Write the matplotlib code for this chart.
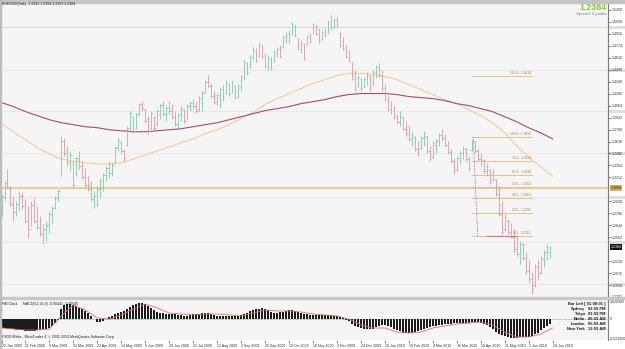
import numpy as np
import matplotlib
matplotlib.use('Agg')
import matplotlib.pyplot as plt
from matplotlib.patches import Rectangle
from matplotlib.transforms import blended_transform_factory

# ---- data (EURUSD daily, one bar per two sessions) ----
opens = [1.2800, 1.2980, 1.3150, 1.3100, 1.2900, 1.2800, 1.2900, 1.2990, 1.2870, 1.2700,
         1.2600, 1.2880, 1.2700, 1.2620, 1.2540, 1.2600, 1.2650, 1.2780, 1.2850, 1.2970,
         1.3250, 1.3650, 1.3500, 1.3400, 1.3400, 1.3250, 1.3440, 1.3350, 1.3220, 1.3120,
         1.3080, 1.2960, 1.2900, 1.3080, 1.3100, 1.3240, 1.3320, 1.3260, 1.3390, 1.3560,
         1.3620, 1.3520, 1.3600, 1.3800, 1.3930, 1.3800, 1.3960, 1.4080, 1.4020, 1.3900,
         1.3800, 1.3930, 1.3840, 1.3950, 1.4070, 1.3970, 1.4040, 1.4000, 1.3930, 1.3850,
         1.3950, 1.4000, 1.3920, 1.4060, 1.4100, 1.4060, 1.4010, 1.4100, 1.4230, 1.4340,
         1.4300, 1.4180, 1.4110, 1.4190, 1.4260, 1.4220, 1.4320, 1.4230, 1.4300, 1.4170,
         1.4280, 1.4400, 1.4570, 1.4520, 1.4640, 1.4730, 1.4650, 1.4780, 1.4640, 1.4530,
         1.4620, 1.4590, 1.4700, 1.4740, 1.4760, 1.4880, 1.4920, 1.4910, 1.5020, 1.4860,
         1.4740, 1.4800, 1.4790, 1.4880, 1.4930, 1.5020, 1.4920, 1.4850, 1.4940, 1.4930,
         1.5060, 1.5000, 1.5080, 1.4930, 1.4780, 1.4740, 1.4640, 1.4570, 1.4380, 1.4290,
         1.4380, 1.4290, 1.4380, 1.4420, 1.4320, 1.4460, 1.4520, 1.4420, 1.4270, 1.4140,
         1.4030, 1.4050, 1.3930, 1.3870, 1.3930, 1.3790, 1.3730, 1.3670, 1.3690, 1.3550,
         1.3560, 1.3680, 1.3700, 1.3530, 1.3450, 1.3600, 1.3650, 1.3720, 1.3680, 1.3600,
         1.3510, 1.3410, 1.3300, 1.3440, 1.3500, 1.3550, 1.3430, 1.3540, 1.3640, 1.3530,
         1.3430, 1.3420, 1.3290, 1.3300, 1.3180, 1.3190, 1.3010, 1.2780, 1.2600, 1.2700,
         1.2560, 1.2510, 1.2360, 1.2300, 1.2420, 1.2260, 1.2100, 1.2000, 1.1930, 1.2150,
         1.2080, 1.2240, 1.2330, 1.2332]
highs = [1.3013, 1.3169, 1.3312, 1.3109, 1.2989, 1.2930, 1.3049, 1.3025, 1.2953, 1.2870,
         1.2930, 1.2965, 1.2870, 1.2750, 1.2655, 1.2691, 1.2810, 1.2870, 1.2989, 1.3073,
         1.3706, 1.3682, 1.3587, 1.3527, 1.3407, 1.3467, 1.3527, 1.3407, 1.3324, 1.3228,
         1.3169, 1.3049, 1.3109, 1.3204, 1.3264, 1.3348, 1.3407, 1.3384, 1.3587, 1.3682,
         1.3646, 1.3551, 1.3826, 1.4005, 1.3945, 1.3981, 1.4100, 1.4124, 1.4029, 1.3945,
         1.4005, 1.3945, 1.4029, 1.4088, 1.4124, 1.4065, 1.4124, 1.4088, 1.4005, 1.3981,
         1.4065, 1.4029, 1.4088, 1.4124, 1.4148, 1.4124, 1.4184, 1.4244, 1.4363, 1.4423,
         1.4339, 1.4244, 1.4220, 1.4280, 1.4304, 1.4363, 1.4339, 1.4363, 1.4304, 1.4327,
         1.4423, 1.4602, 1.4578, 1.4662, 1.4757, 1.4746, 1.4817, 1.4781, 1.4686, 1.4662,
         1.4638, 1.4722, 1.4757, 1.4781, 1.4901, 1.4937, 1.4961, 1.5056, 1.5020, 1.4865,
         1.4841, 1.4805, 1.4901, 1.4925, 1.5044, 1.5020, 1.4984, 1.4961, 1.4984, 1.5080,
         1.5140, 1.5104, 1.5116, 1.4937, 1.4877, 1.4781, 1.4722, 1.4578, 1.4483, 1.4423,
         1.4387, 1.4399, 1.4459, 1.4423, 1.4483, 1.4542, 1.4566, 1.4483, 1.4327, 1.4184,
         1.4124, 1.4065, 1.3969, 1.4005, 1.3945, 1.3885, 1.3826, 1.3766, 1.3706, 1.3646,
         1.3706, 1.3766, 1.3706, 1.3587, 1.3646, 1.3670, 1.3742, 1.3790, 1.3730, 1.3646,
         1.3551, 1.3443, 1.3467, 1.3527, 1.3587, 1.3563, 1.3467, 1.3670, 1.3646, 1.3551,
         1.3503, 1.3431, 1.3384, 1.3312, 1.3312, 1.3192, 1.3109, 1.2930, 1.2774, 1.2715,
         1.2667, 1.2595, 1.2511, 1.2452, 1.2428, 1.2332, 1.2237, 1.2093, 1.2189, 1.2237,
         1.2273, 1.2356, 1.2416, 1.2394]
lows = [1.2750, 1.2930, 1.3085, 1.2870, 1.2691, 1.2750, 1.2810, 1.2834, 1.2667, 1.2488,
        1.2631, 1.2667, 1.2595, 1.2511, 1.2416, 1.2452, 1.2547, 1.2667, 1.2834, 1.2930,
        1.3228, 1.3467, 1.3348, 1.3288, 1.3085, 1.3228, 1.3312, 1.3192, 1.3085, 1.3049,
        1.2930, 1.2846, 1.2870, 1.2965, 1.3049, 1.3169, 1.3204, 1.3228, 1.3384, 1.3527,
        1.3503, 1.3407, 1.3587, 1.3766, 1.3742, 1.3790, 1.3945, 1.4005, 1.3861, 1.3730,
        1.3790, 1.3766, 1.3826, 1.3909, 1.3945, 1.3885, 1.3969, 1.3909, 1.3826, 1.3802,
        1.3885, 1.3861, 1.3909, 1.4005, 1.4029, 1.3981, 1.4005, 1.4005, 1.4220, 1.4280,
        1.4160, 1.4088, 1.4065, 1.4041, 1.4124, 1.4208, 1.4184, 1.4220, 1.4148, 1.4160,
        1.4244, 1.4363, 1.4423, 1.4507, 1.4602, 1.4578, 1.4638, 1.4626, 1.4507, 1.4483,
        1.4483, 1.4578, 1.4638, 1.4626, 1.4746, 1.4805, 1.4805, 1.4901, 1.4877, 1.4722,
        1.4686, 1.4602, 1.4781, 1.4805, 1.4925, 1.4901, 1.4805, 1.4841, 1.4877, 1.4925,
        1.4961, 1.4984, 1.4996, 1.4757, 1.4722, 1.4626, 1.4578, 1.4363, 1.4244, 1.4280,
        1.4244, 1.4280, 1.4304, 1.4244, 1.4304, 1.4387, 1.4399, 1.4244, 1.4124, 1.4005,
        1.3969, 1.3909, 1.3850, 1.3826, 1.3766, 1.3706, 1.3646, 1.3587, 1.3527, 1.3467,
        1.3551, 1.3587, 1.3503, 1.3407, 1.3443, 1.3503, 1.3587, 1.3646, 1.3575, 1.3491,
        1.3384, 1.3252, 1.3288, 1.3372, 1.3431, 1.3407, 1.3288, 1.3527, 1.3503, 1.3407,
        1.3348, 1.3264, 1.3228, 1.3133, 1.3169, 1.2989, 1.2750, 1.2535, 1.2571, 1.2535,
        1.2488, 1.2332, 1.2273, 1.2189, 1.2237, 1.2069, 1.1974, 1.1830, 1.1914, 1.1998,
        1.2069, 1.2153, 1.2237, 1.2253]
closes = [1.2980, 1.3140, 1.3100, 1.2900, 1.2800, 1.2900, 1.2990, 1.2870, 1.2700, 1.2600,
          1.2880, 1.2700, 1.2620, 1.2540, 1.2600, 1.2650, 1.2780, 1.2850, 1.2970, 1.3050,
          1.3650, 1.3500, 1.3400, 1.3480, 1.3120, 1.3440, 1.3350, 1.3220, 1.3120, 1.3080,
          1.2960, 1.2990, 1.3080, 1.3170, 1.3240, 1.3320, 1.3260, 1.3360, 1.3560, 1.3650,
          1.3520, 1.3440, 1.3800, 1.3980, 1.3760, 1.3960, 1.4080, 1.4030, 1.3880, 1.3760,
          1.3980, 1.3800, 1.4000, 1.4070, 1.3970, 1.4040, 1.4000, 1.3930, 1.3850, 1.3950,
          1.4030, 1.3880, 1.4060, 1.4100, 1.4060, 1.4000, 1.4160, 1.4220, 1.4340, 1.4300,
          1.4180, 1.4110, 1.4190, 1.4260, 1.4150, 1.4340, 1.4200, 1.4330, 1.4170, 1.4300,
          1.4400, 1.4580, 1.4450, 1.4640, 1.4730, 1.4600, 1.4790, 1.4640, 1.4530, 1.4620,
          1.4500, 1.4700, 1.4740, 1.4650, 1.4880, 1.4920, 1.4830, 1.5030, 1.4890, 1.4740,
          1.4820, 1.4620, 1.4890, 1.4820, 1.5030, 1.4920, 1.4830, 1.4940, 1.4900, 1.5060,
          1.5000, 1.5080, 1.5010, 1.4780, 1.4740, 1.4640, 1.4590, 1.4380, 1.4260, 1.4400,
          1.4270, 1.4380, 1.4430, 1.4270, 1.4460, 1.4520, 1.4420, 1.4270, 1.4140, 1.4030,
          1.4080, 1.3930, 1.3870, 1.3980, 1.3790, 1.3730, 1.3670, 1.3720, 1.3550, 1.3490,
          1.3680, 1.3740, 1.3530, 1.3430, 1.3620, 1.3650, 1.3720, 1.3680, 1.3600, 1.3510,
          1.3410, 1.3300, 1.3440, 1.3500, 1.3560, 1.3430, 1.3320, 1.3650, 1.3530, 1.3430,
          1.3470, 1.3290, 1.3350, 1.3150, 1.3290, 1.3010, 1.2780, 1.2560, 1.2740, 1.2560,
          1.2510, 1.2360, 1.2300, 1.2420, 1.2260, 1.2100, 1.2000, 1.1900, 1.2160, 1.2050,
          1.2250, 1.2330, 1.2390, 1.2384]

# moving averages, read every 4th bar
ma_orange = [1.3850, 1.3754, 1.3658, 1.3563, 1.3491, 1.3431, 1.3407, 1.3384, 1.3372, 1.3372,
             1.3384, 1.3431, 1.3479, 1.3527, 1.3575, 1.3623, 1.3670, 1.3730, 1.3778, 1.3838,
             1.3909, 1.3981, 1.4077, 1.4148, 1.4208, 1.4268, 1.4327, 1.4375, 1.4423, 1.4447,
             1.4447, 1.4435, 1.4411, 1.4375, 1.4315, 1.4256, 1.4196, 1.4136, 1.4088, 1.4017,
             1.3945, 1.3861, 1.3742, 1.3587, 1.3455, 1.3336, 1.3228]
ma_maroon = [1.4100, 1.4053, 1.3993, 1.3945, 1.3897, 1.3861, 1.3838, 1.3814, 1.3802, 1.3778,
             1.3766, 1.3754, 1.3754, 1.3766, 1.3778, 1.3790, 1.3814, 1.3838, 1.3861, 1.3897,
             1.3933, 1.3969, 1.4005, 1.4029, 1.4053, 1.4088, 1.4112, 1.4136, 1.4172, 1.4196,
             1.4208, 1.4208, 1.4208, 1.4196, 1.4172, 1.4160, 1.4148, 1.4124, 1.4088, 1.4065,
             1.4029, 1.3993, 1.3933, 1.3873, 1.3802, 1.3742, 1.3670]

# MACD(12,26,9)
macd_hist = [-0.009, -0.009, -0.010, -0.010, -0.010, -0.011, -0.011, -0.011, -0.012, -0.012,
             -0.012, -0.012, -0.011, -0.011, -0.010, -0.010, -0.009, -0.007, -0.004, -0.001,
             0.010, 0.014, 0.015, 0.015, 0.014, 0.013, 0.011, 0.010, 0.008, 0.006,
             0.003, 0.000, -0.003, -0.003, -0.002, 0.000, 0.002, 0.003, 0.005, 0.006,
             0.007, 0.008, 0.010, 0.012, 0.014, 0.015, 0.016, 0.016, 0.015, 0.013,
             0.011, 0.009, 0.007, 0.006, 0.006, 0.005, 0.005, 0.005, 0.005, 0.004,
             0.004, 0.003, 0.003, 0.004, 0.005, 0.005, 0.005, 0.006, 0.006, 0.006,
             0.005, 0.004, 0.003, 0.003, 0.003, 0.003, 0.003, 0.003, 0.003, 0.003,
             0.004, 0.005, 0.006, 0.008, 0.009, 0.010, 0.010, 0.011, 0.010, 0.009,
             0.007, 0.006, 0.006, 0.007, 0.007, 0.008, 0.009, 0.009, 0.008, 0.007,
             0.006, 0.005, 0.005, 0.004, 0.004, 0.004, 0.004, 0.004, 0.004, 0.004,
             0.004, 0.003, 0.003, 0.002, 0.001, -0.001, -0.002, -0.005, -0.007, -0.008,
             -0.009, -0.010, -0.010, -0.010, -0.010, -0.008, -0.007, -0.006, -0.006, -0.007,
             -0.008, -0.010, -0.011, -0.012, -0.014, -0.014, -0.014, -0.014, -0.013, -0.012,
             -0.011, -0.010, -0.009, -0.008, -0.007, -0.007, -0.006, -0.006, -0.005, -0.005,
             -0.005, -0.004, -0.004, -0.004, -0.004, -0.004, -0.004, -0.003, -0.003, -0.003,
             -0.004, -0.005, -0.006, -0.008, -0.010, -0.013, -0.015, -0.016, -0.017, -0.018,
             -0.019, -0.019, -0.019, -0.018, -0.018, -0.018, -0.018, -0.017, -0.015, -0.014,
             -0.011, -0.009, -0.007, -0.005]
macd_signal = [-0.009, -0.010, -0.011, -0.011, -0.010, 0.003, 0.014, 0.009, 0.001, 0.000,
               0.004, 0.010, 0.015, 0.011, 0.006, 0.005, 0.004, 0.005, 0.005, 0.004,
               0.003, 0.006, 0.009, 0.008, 0.008, 0.007, 0.005, 0.004, 0.003, 0.000,
               -0.006, -0.009, -0.009, -0.013, -0.014, -0.013, -0.009, -0.007, -0.005, -0.004,
               -0.003, -0.006, -0.013, -0.018, -0.018, -0.015, -0.009]
macd_now = (-0.00443, -0.00540)

dates = ['22 Jan 2009', '11 Feb 2009', '9 Mar 2009', '31 Mar 2009', '22 Apr 2009', '14 May 2009',
         '5 Jun 2009', '29 Jun 2009', '21 Jul 2009', '12 Aug 2009', '3 Sep 2009', '25 Sep 2009',
         '19 Oct 2009', '10 Nov 2009', '2 Dec 2009', '24 Dec 2009', '19 Jan 2010', '10 Feb 2010',
         '4 Mar 2010', '26 Mar 2010', '19 Apr 2010', '11 May 2010', '2 Jun 2010', '24 Jun 2010']
price_ticks = [1.5200, 1.5058, 1.4916, 1.4774, 1.4632, 1.4490, 1.4348, 1.4206, 1.4064, 1.3922,
               1.3780, 1.3638, 1.3496, 1.3354, 1.3212, 1.2928, 1.2786, 1.2644, 1.2502,
               1.2218, 1.2076, 1.1934, 1.1792]
grid_prices = [1.5000, 1.4490, 1.3995, 1.3505, 1.2985, 1.2445, 1.1945]
macd_ticks = [0.0178, 0.0, -0.0192]
macd_tick_labels = ['0.020000', '0', '-0.021000']

# drawn objects
hline_price = 1.3090
fib_levels = [0.0, 23.6, 38.2, 50.0, 61.8, 76.4, 100.0, 161.8]
fib_prices = [1.2513, 1.2791, 1.2963, 1.3102, 1.3240, 1.3412, 1.3690, 1.4418]
fib_bars = [157, 177]
fib_trend = [(157.5, 1.3690), (159.0, 1.2513)]
red_seg = [(162, 172), 1.2513]

clock_rows = [('Sydney', '02:59 PM'), ('Tokyo', '01:59 PM'), ('Berlin', '06:59 AM'),
              ('London', '05:59 AM'), ('New York', '12:59 AM')]

# ---- figure ----
W, H = 625, 349
plt.rcParams['font.family'] = ['Liberation Sans', 'DejaVu Sans']
fig = plt.figure(figsize=(W / 100, H / 100), dpi=100, facecolor='white')


def box(l, t, r, b):
    return [l / W, 1 - b / H, (r - l) / W, (b - t) / H]


ax = fig.add_axes(box(1, 3, 608, 297))
axm = fig.add_axes(box(1, 299, 608, 340), sharex=ax)
for a in (ax, axm):
    a.set_facecolor('#f5f5f5')
    for s in a.spines.values():
        s.set_visible(False)
    a.spines['right'].set_visible(True)
    a.spines['right'].set_color('#7a7a7a')
    a.spines['right'].set_linewidth(0.8)

fig.patches.append(Rectangle((0, 1 - 2.5 / H), 1, 2.5 / H, transform=fig.transFigure,
                             color='#c4c4c4', zorder=0))
fig.patches.append(Rectangle((0, 1 - 299 / H), 1, 2 / H, transform=fig.transFigure,
                             color='#c8c8c8', zorder=0))
fig.patches.append(Rectangle((0, 0), 1.5 / W, 1, transform=fig.transFigure,
                             color='#bdbdbd', zorder=0))

n = len(closes)
x = np.arange(n)
o = np.array(opens)
c = np.array(closes)
up = c >= o
cols = np.where(up, '#74c99c', '#e08e9c')

ax.set_xlim(-0.17, 202.5)
ax.set_ylim(1.1804, 1.5283)

blend = blended_transform_factory(ax.transAxes, ax.transData)
for i, p in enumerate(grid_prices):
    ax.axhline(p, color='#d6d6d6', lw=0.6, ls='-' if i == 0 else (0, (1.2, 1.2)), zorder=1)
    ax.plot([1.0, 1.028], [p, p], transform=blend, color='#dedede', lw=2.2,
            solid_capstyle='butt', clip_on=False, zorder=1)

ax.axhline(hline_price, color='#e8cf98', lw=1.5, zorder=1.5)

ax.vlines(x, lows, highs, colors=cols, lw=0.55, zorder=3)
ax.hlines(o, x - 0.45, x, colors=cols, lw=0.5, zorder=3)
ax.hlines(c, x, x + 0.45, colors=cols, lw=0.5, zorder=3)

ma_x = np.arange(len(ma_orange)) * 4
ax.plot(ma_x, ma_orange, color='#f4c98a', lw=0.7, zorder=2)
ax.plot(ma_x, ma_maroon, color='#a84d66', lw=0.8, zorder=2)

# fibonacci retracement
for lvl, p in zip(fib_levels, fib_prices):
    ax.plot(fib_bars, [p, p], color='#e2c48a', lw=0.7, zorder=2)
    ax.text(fib_bars[1] - 0.3, p + 0.0012, f'{lvl:.1f} - {p:.4f}', fontsize=2.3,
            color='#a88540', ha='right', va='bottom', zorder=4)
ax.plot([fib_trend[0][0], fib_trend[1][0]], [fib_trend[0][1], fib_trend[1][1]],
        color='#a0525e', lw=0.6, ls=(0, (1, 1.3)), zorder=4)
ax.plot(red_seg[0], [red_seg[1], red_seg[1]], color='#c9808c', lw=0.9, zorder=2.5)

# price axis
ax.yaxis.tick_right()
ax.set_yticks(price_ticks)
ax.set_yticklabels([f'{p:.4f}' for p in price_ticks])
ax.tick_params(axis='y', labelsize=2.6, length=2, width=0.4, pad=0.8,
               colors='#333333', direction='out')
ax.tick_params(axis='x', bottom=False, labelbottom=False)

ax.text(1.004, hline_price, f'{hline_price:.4f}', transform=blend, fontsize=2.6,
        ha='left', va='center', color='#202020', zorder=6,
        bbox=dict(boxstyle='square,pad=0.25', fc='#d7b05a', ec='none'))
ax.text(1.004, closes[-1], f'{closes[-1]:.4f}', transform=blend, fontsize=2.6,
        ha='left', va='center', color='white', zorder=6,
        bbox=dict(boxstyle='square,pad=0.25', fc='#111111', ec='none'))

# header texts
fig.text(2 / W, 1 - 4.5 / H,
         f'EURUSD,Daily  {opens[-1]:.4f} {highs[-1]:.4f} {lows[-1]:.4f} {closes[-1]:.4f}',
         fontsize=2.6, color='#222222', ha='left', va='center')
fig.text(606 / W, 1 - 8 / H, f'{closes[-1]:.4f}', fontsize=6.4, weight='bold',
         color='#86cf2c', ha='right', va='center')
fig.text(606 / W, 1 - 14.5 / H, 'Spread: 2 points', fontsize=3.1, color='#5b80b6',
         ha='right', va='center')

# ---- MACD window ----
axm.set_ylim(-0.021, 0.020)
axm.axhline(0, color='#3fae4a', lw=0.5, ls=(0, (1, 1)), zorder=1)
axm.bar(x, macd_hist, width=0.7, color='#1c1c1c', zorder=2)
axm.plot(ma_x, macd_signal, color='#e06b6b', lw=0.6, zorder=3)
axm.yaxis.tick_right()
axm.set_yticks(macd_ticks)
axm.set_yticklabels(macd_tick_labels)
axm.tick_params(axis='y', labelsize=2.6, length=0, pad=1.5, colors='#333333')

axm.set_xticks(np.arange(len(dates)) * 8)
axm.set_xticklabels(dates)
for lbl in axm.get_xticklabels():
    lbl.set_horizontalalignment('left')
axm.tick_params(axis='x', labelsize=2.6, length=2, width=0.4, pad=1.2,
                colors='#333333', direction='out')

fig.text(2 / W, 1 - 304 / H, 'PAI Clock', fontsize=2.6, color='#222222', va='center')
fig.text(23 / W, 1 - 304 / H, f'MACD(12,26,9) {macd_now[0]:.5f} {macd_now[1]:.5f}',
         fontsize=2.6, color='#222222', va='center')
fig.text(2 / W, 1 - 337 / H, 'FXDD Malta - MetaTrader 4, \u00a9 2001-2010 MetaQuotes Software Corp.',
         fontsize=2.6, color='#222222', va='center')

fig.text(606 / W, 1 - 304 / H, 'Bar Left [ 01:00:01 ]', fontsize=2.9, weight='bold',
         color='#1a1a1a', ha='right', va='center')
for k, (city, t) in enumerate(clock_rows):
    yy = 1 - (309 + 5 * k) / H
    fig.text(585 / W, yy, city, fontsize=2.9, weight='bold', color='#1a1a1a',
             ha='right', va='center')
    fig.text(588 / W, yy, t, fontsize=2.9, weight='bold', color='#1a1a1a',
             ha='left', va='center')

fig.savefig('out.png', dpi=100, facecolor=fig.get_facecolor())
